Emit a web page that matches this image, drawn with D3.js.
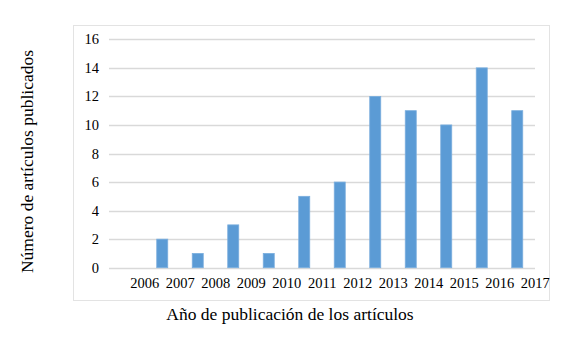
<!DOCTYPE html>
<html>
<head>
<meta charset="utf-8">
<script src="https://cdn.jsdelivr.net/npm/d3@7"></script>
<style>
  body { margin: 0; background: #fff; }
  text { font-family: "Liberation Serif", "Times New Roman", serif; fill: #000; }
</style>
</head>
<body>
<svg id="viz" width="581" height="344"></svg>
<script>
// data
var years = ['2006', '2007', '2008', '2009', '2010', '2011', '2012', '2013', '2014', '2015', '2016', '2017'];
var articles = [0, 2, 1, 3, 1, 5, 6, 12, 11, 10, 14, 11];
var yTicks = [0, 2, 4, 6, 8, 10, 12, 14, 16];

var svg = d3.select('#viz');

// chart area frame
svg
  .append('rect')
  .attr('x', 73.5)
  .attr('y', 25.5)
  .attr('width', 476)
  .attr('height', 275)
  .attr('fill', '#fff')
  .attr('stroke', '#e3e3e3');

var x = d3.scaleBand().domain(years).range([109, 535]).paddingInner(0.69).paddingOuter(0.345);
var y = d3.scaleLinear().domain([0, 16]).range([267.7, 39.3]);

// gridlines
svg
  .append('g')
  .selectAll('line')
  .data(yTicks)
  .join('line')
  .attr('x1', 109)
  .attr('x2', 535)
  .attr('y1', (d) => Math.round(y(d)) + 0.5)
  .attr('y2', (d) => Math.round(y(d)) + 0.5)
  .attr('stroke', '#d9d9d9')
  .attr('stroke-width', 1.3);

// y tick labels
svg
  .append('g')
  .selectAll('text')
  .data(yTicks)
  .join('text')
  .attr('x', 99)
  .attr('y', (d) => y(d) + 5)
  .attr('text-anchor', 'end')
  .style('font-size', '14.5px')
  .text((d) => d);

// bars
svg
  .append('g')
  .selectAll('rect')
  .data(articles)
  .join('rect')
  .attr('x', (d, i) => x(years[i]))
  .attr('y', (d) => y(d))
  .attr('width', x.bandwidth())
  .attr('height', (d) => y(0) - y(d))
  .attr('fill', '#5b9bd5')
  .attr('stroke', '#7aaede')
  .attr('stroke-width', 0.8);

// year labels sit shifted half a band to the right in the original
var labelShift = 18;
svg
  .append('g')
  .selectAll('text')
  .data(years)
  .join('text')
  .attr('x', (d) => x(d) + x.bandwidth() / 2 + labelShift)
  .attr('y', 287.5)
  .attr('text-anchor', 'middle')
  .style('font-size', '14.5px')
  .text((d) => d);

// axis titles
svg
  .append('text')
  .attr('x', 290)
  .attr('y', 320)
  .attr('text-anchor', 'middle')
  .style('font-size', '17.5px')
  .text('Año de publicación de los artículos');

svg
  .append('text')
  .attr('transform', 'rotate(-90)')
  .attr('x', -161.5)
  .attr('y', 33)
  .attr('text-anchor', 'middle')
  .style('font-size', '17.5px')
  .text('Número de artículos publicados');
</script>
</body>
</html>
